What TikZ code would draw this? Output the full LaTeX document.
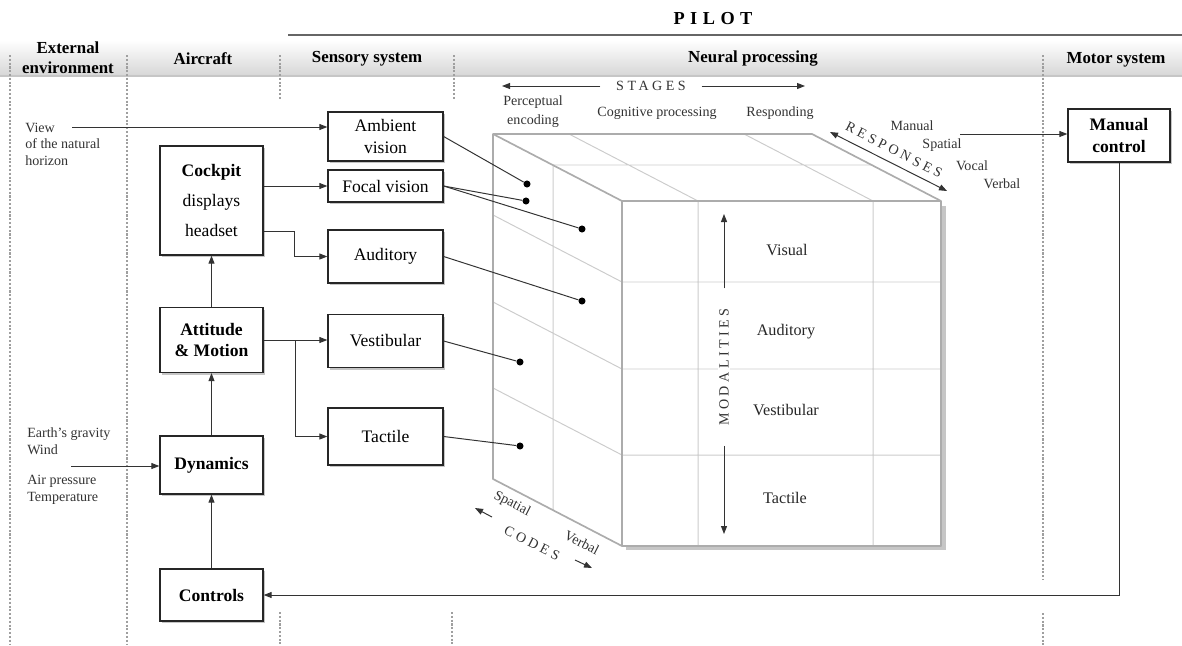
\documentclass[tikz,border=0pt]{standalone}
\usepackage{fontspec}
\setmainfont{Liberation Serif}
\newfontfamily\spacedfont[LetterSpace=25]{Liberation Serif}
\newfontfamily\pilotfont[LetterSpace=30]{Liberation Serif}
\usetikzlibrary{arrows.meta, calc, shadows}

\tikzset{
	blk/.style={draw=black!85, line width=0.9pt, fill=white, align=center, inner sep=2pt,
		font=\fontsize{12.5}{15}\selectfont,
		drop shadow={shadow xshift=1.6pt, shadow yshift=-1.6pt, fill=black!45}},
	hdr/.style={font=\bfseries\fontsize{12}{14}\selectfont, align=center},
	lbl/.style={align=left, anchor=west, inner sep=0pt, text=black!80, font=\fontsize{10}{11.7}\selectfont},
	stg/.style={align=center, inner sep=0pt, text=black!80, font=\fontsize{10}{13.5}\selectfont},
	spc/.style={inner sep=1pt, text=black!80, font=\spacedfont\fontsize{10}{12}\selectfont},
	modl/.style={font=\fontsize{11.5}{13}\selectfont, text=black!85},
	sepline/.style={draw=gray!75, line width=1.1pt, dash pattern=on 1.5pt off 1.2pt},
	conn/.style={draw=black!80, line width=0.7pt},
	dot/.style={circle, fill=black, inner sep=0pt, minimum size=5pt},
	cubein/.style={draw=gray!40, line width=0.7pt},
	cubeout/.style={draw=gray!65, line width=1.2pt, line join=round}
}

\begin{document}
\begin{tikzpicture}[x=0.025cm, y=-0.025cm, >={Triangle[length=2mm, width=1.5mm]}]
	\useasboundingbox (0,0) rectangle (1182,645);

	% header band and columns
	\shade[top color=white, bottom color=gray!32] (0,40) rectangle (1182,76);
	\draw[gray!45, line width=0.8pt] (0,76) -- (1182,76);
	\draw[black!60, line width=0.9pt] (288,35) -- (1182,35);
	\node[font=\pilotfont\bfseries\fontsize{13}{15}\selectfont] (pilot) at (713,19) {PILOT};
	\node[hdr] (hext) at (68,58) {External\\environment};
	\node[hdr] (hair) at (203,59) {Aircraft};
	\node[hdr] (hsen) at (367,59) {Sensory system};
	\node[hdr] (hneu) at (753,59) {Neural processing};
	\node[hdr] (hmot) at (1116,60) {Motor system};
	\draw[sepline] (10,55) -- (10,645) (127,55) -- (127,645)
		(280,55) -- (280,100) (280,612) -- (280,645)
		(454,55) -- (454,100) (452,612) -- (452,645)
		(1043,55) -- (1043,580) (1043,613) -- (1043,645);

	% cube
	\fill[gray!45] (626,206) rectangle (946,550);
	\fill[white] (622,201) rectangle (941,546);
	\draw[cubein] (553,165) -- (872,165)
		(569,134) -- (698,201) (744,134) -- (873,201)
		(553,165) -- (553,510)
		(493,215) -- (622,282) (493,302) -- (622,369) (493,388) -- (622,455)
		(698,201) -- (698,546) (873,201) -- (873,546)
		(622,282) -- (941,282) (622,369) -- (941,369) (622,455) -- (941,455);
	\draw[cubeout] (622,201) -- (493,134) -- (812,134) -- (941,201)
		(493,134) -- (493,479) -- (622,546)
		(622,201) rectangle (941,546);

	\node[stg] (penc) at (533,112) {Perceptual\\encoding};
	\node[stg] (cogp) at (657,113) {Cognitive processing};
	\node[stg] (resp) at (780,113) {Responding};
	\node[spc, inner xsep=11pt] (stages) at (651,86) {STAGES};
	\coordinate (stgL) at (502,86);
	\coordinate (stgR) at (805,86);
	\draw[conn,->] (stages.west) -- (stgL);
	\draw[conn,->] (stages.east) -- (stgR);

	\coordinate (rspA) at (830,132);
	\coordinate (rspB) at (947,191);
	\draw[conn,<->] (rspA) -- (rspB);
	\node[spc, rotate=-27] (rsp) at (894,150) {RESPONSES};
	\node[stg] (rman) at (912,126) {Manual};
	\node[stg] (rspa) at (942,145) {Spatial};
	\node[stg] (rvoc) at (972,166) {Vocal};
	\node[stg] (rver) at (1002,184) {Verbal};

	\node[spc, rotate=90, fill=white, inner xsep=14pt] (modal) at (724,367) {MODALITIES};
	\coordinate (mtop) at (724,214);
	\coordinate (mbot) at (724,534);
	\draw[conn,->] (modal.east) -- (mtop);
	\draw[conn,->] (modal.west) -- (mbot);
	\node[modl] (mvis) at (787,250) {Visual};
	\node[modl] (maud) at (786,332) {Auditory};
	\node[modl] (mves) at (786,410) {Vestibular};
	\node[modl] (mtac) at (785,498) {Tactile};

	\node[stg, rotate=-27] (cspa) at (512,504) {Spatial};
	\node[spc, rotate=-27] (codes) at (532,543) {CODES};
	\node[stg, rotate=-27] (cver) at (582,543) {Verbal};
	\coordinate (cL1) at (492,517);
	\coordinate (cL2) at (475,508);
	\coordinate (cR1) at (575,560);
	\coordinate (cR2) at (592,568);
	\draw[conn,->] (cL1) -- (cL2);
	\draw[conn,->] (cR1) -- (cR2);

	% blocks
	\node[blk, minimum width=2.575cm, minimum height=2.725cm] (cockpit) at (211.5,200.5)
		{\textbf{Cockpit}\\[6pt] displays\\[6pt] headset};
	\node[blk, minimum width=2.575cm, minimum height=1.625cm] (attitude) at (211.5,340)
		{\textbf{Attitude}\\ \textbf{\& Motion}};
	\node[blk, minimum width=2.575cm, minimum height=1.45cm, font=\bfseries\fontsize{12.5}{15}\selectfont] (dynamics) at (211.5,465) {Dynamics};
	\node[blk, minimum width=2.575cm, minimum height=1.3cm, font=\bfseries\fontsize{12.5}{15}\selectfont] (controls) at (211.5,595) {Controls};
	\node[blk, minimum width=2.875cm, minimum height=1.225cm] (ambient) at (385.5,136.5) {Ambient\\vision};
	\node[blk, minimum width=2.875cm, minimum height=0.8cm] (focal) at (385.5,186) {Focal vision};
	\node[blk, minimum width=2.875cm, minimum height=1.325cm] (auditory) at (385.5,256.5) {Auditory};
	\node[blk, minimum width=2.875cm, minimum height=1.325cm] (vestibular) at (385.5,341) {Vestibular};
	\node[blk, minimum width=2.875cm, minimum height=1.425cm] (tactile) at (385.5,436.5) {Tactile};
	\node[blk, minimum width=2.55cm, minimum height=1.325cm] (manualctl) at (1119,135.5)
		{\textbf{Manual}\\ \textbf{control}};

	\node[lbl] (horizon) at (25,144) {View\\of the natural\\horizon};
	\node[lbl] (grav) at (27,441) {Earth’s gravity\\Wind};
	\node[lbl] (press) at (27,490) {Air pressure\\Temperature};

	% dots on the cube
	\node[dot] (dA) at (527,184) {};
	\node[dot] (dF1) at (526,201) {};
	\node[dot] (dF2) at (582,229) {};
	\node[dot] (dAu) at (582,301) {};
	\node[dot] (dVe) at (520,362) {};
	\node[dot] (dTa) at (520,446) {};

	% connectors
	\coordinate (hz) at (72,127);
	\coordinate (env) at (71,466);
	\coordinate (rsrc) at (960,134);
	\draw[conn,->] (hz) -- (hz -| ambient.west);
	\draw[conn,->] (cockpit.east |- focal.west) -- (focal.west);
	\draw[conn,->] ($(cockpit.east)+(0,31)$) -- ++(31,0) |- (auditory.west);
	\draw[conn,->] (attitude.north) -- (cockpit.south);
	\draw[conn,->] (attitude.east) -- (attitude.east -| vestibular.west);
	\draw[conn,->] ($(attitude.east)+(32,0)$) |- (tactile.west);
	\draw[conn,->] (dynamics.north) -- (attitude.south);
	\draw[conn,->] (controls.north) -- (dynamics.south);
	\draw[conn,->] (env) -- (env -| dynamics.west);
	\draw[conn,->] (rsrc) -- (rsrc -| manualctl.west);
	\draw[conn,->] (manualctl.south) |- (controls.east);
	\draw[conn] (ambient.east) -- (dA);
	\draw[conn] (focal.east) -- (dF1);
	\draw[conn] (focal.east) -- (dF2);
	\draw[conn] (auditory.east) -- (dAu);
	\draw[conn] (vestibular.east) -- (dVe);
	\draw[conn] (tactile.east) -- (dTa);
\end{tikzpicture}
\end{document}
